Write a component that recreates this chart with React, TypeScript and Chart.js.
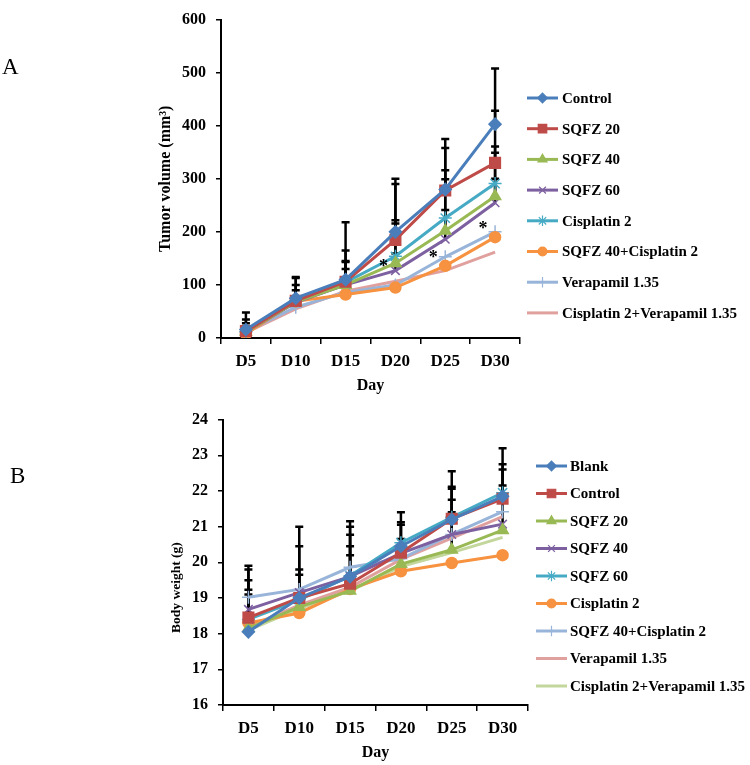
import React, { useEffect, useRef } from "react";
import { Chart, registerables } from "chart.js";
import { drawPoint } from "chart.js/helpers";

Chart.register(...registerables);

const SERIF = "'Liberation Serif', 'Times New Roman', serif";

const days = ["D5", "D10", "D15", "D20", "D25", "D30"];

// ---------- Panel A: tumor volume ----------
const aNames = [
  "Control",
  "SQFZ 20",
  "SQFZ 40",
  "SQFZ 60",
  "Cisplatin 2",
  "SQFZ 40+Cisplatin 2",
  "Verapamil 1.35",
  "Cisplatin 2+Verapamil 1.35",
];
const aControl = [16, 75, 110, 200, 280, 403];
const aSqfz20 = [13, 70, 106, 185, 278, 330];
const aSqfz40 = [12, 68, 100, 141, 202, 267];
const aSqfz60 = [12, 67, 100, 127, 186, 255];
const aCis2 = [12, 70, 105, 154, 226, 291];
const aSqfz40Cis = [8, 69, 82, 95, 136, 190];
const aVera = [12, 58, 86, 100, 153, 200];
const aCisVera = [10, 55, 88, 107, 127, 162];

const aControlErr = [32, 40, 108, 100, 95, 105];
const aSqfz20Err = [22, 43, 59, 105, 80, 98];
const aSqfz40Err = [0, 22, 43, 75, 97, 82];
const aSqfz60Err = [0, 0, 30, 32, 55, 45];
const aCis2Err = [16, 30, 40, 68, 90, 70];

const aStarDays = ["D20", "D25", "D30"];
const aStarValues = [140, 157, 212];

// ---------- Panel B: body weight ----------
const bNames = [
  "Blank",
  "Control",
  "SQFZ 20",
  "SQFZ 40",
  "SQFZ 60",
  "Cisplatin 2",
  "SQFZ 40+Cisplatin 2",
  "Verapamil 1.35",
  "Cisplatin 2+Verapamil 1.35",
];
const bBlank = [18.05, 19.0, 19.6, 20.45, 21.2, 21.85];
const bControl = [18.45, 19.0, 19.4, 20.27, 21.22, 21.78];
const bSqfz20 = [18.15, 18.75, 19.2, 19.95, 20.35, 20.9];
const bSqfz40 = [18.68, 19.15, 19.6, 20.25, 20.78, 21.07];
const bSqfz60 = [18.4, 18.95, 19.62, 20.55, 21.26, 21.95];
const bCis2 = [18.3, 18.58, 19.25, 19.75, 19.98, 20.2];
const bSqfz40Cis = [19.02, 19.24, 19.86, 20.1, 20.78, 21.42];
const bVera = [18.2, 18.8, 19.3, 20.08, 20.68, 21.28];
const bCisVera = [18.1, 18.7, 19.2, 19.88, 20.27, 20.7];

const bBlankErr = [1.85, 2.0, 1.55, 0.95, 1.35, 1.35];
const bControlErr = [1.35, 1.45, 1.6, 0.85, 0.9, 0.97];
const bSqfz20Err = [0.95, 0, 1.0, 0, 1.05, 0];
const bSqfz40Err = [0.55, 0.5, 0.85, 0.4, 0.97, 1.08];
const bSqfz60Err = [1.1, 0.85, 1.15, 0.5, 0.8, 0.65];

// ---------- styles ----------
const BLUE = "#4A7EBB";
const RED = "#BE4B48";
const GREEN = "#98B954";
const PURPLE = "#7D60A0";
const TEAL = "#46AAC5";
const ORANGE = "#F69240";
const LIGHTBLUE = "#98B4D9";
const PINK = "#E0A09E";
const LIGHTGREEN = "#C3D69B";

type Mk = { style: string | false; r: number };
const MK_DIAMOND: Mk = { style: "rectRot", r: 6 };
const MK_SQUARE: Mk = { style: "rect", r: 7.5 };
const MK_TRI: Mk = { style: "triangle", r: 6.5 };
const MK_X: Mk = { style: "crossRot", r: 6 };
const MK_STAR: Mk = { style: "star", r: 6.5 };
const MK_CIRCLE: Mk = { style: "circle", r: 5.5 };
const MK_PLUS: Mk = { style: "cross", r: 6.5 };
const MK_NONE: Mk = { style: false, r: 0 };

function makeDataset(label: string, data: number[], color: string, mk: Mk, err?: number[]) {
  return {
    label,
    data,
    borderColor: color,
    backgroundColor: color,
    borderWidth: 3,
    pointStyle: mk.style || "circle",
    pointRadius: mk.style ? mk.r : 0,
    pointBorderWidth: 1.5,
    pointBackgroundColor: color,
    pointBorderColor: color,
    tension: 0,
    errorBars: err || null,
    mk,
  } as any;
}

const errorBarPlugin = {
  id: "errorBars",
  beforeDatasetsDraw(chart: any) {
    const ctx = chart.ctx;
    const x = chart.scales.x;
    const y = chart.scales.y;
    ctx.save();
    ctx.strokeStyle = "#000";
    ctx.lineWidth = 2.5;
    chart.data.datasets.forEach((ds: any) => {
      if (!ds.errorBars) return;
      ds.data.forEach((v: number, j: number) => {
        const e = ds.errorBars[j];
        if (!e) return;
        const px = x.getPixelForValue(j);
        const y0 = y.getPixelForValue(v);
        const y1 = y.getPixelForValue(v + e);
        ctx.beginPath();
        ctx.moveTo(px, y0);
        ctx.lineTo(px, y1);
        ctx.moveTo(px - 4, y1);
        ctx.lineTo(px + 4, y1);
        ctx.stroke();
      });
    });
    ctx.restore();
  },
};

const extrasPlugin = {
  id: "extras",
  afterDraw(chart: any, _args: any, opts: any) {
    const ctx = chart.ctx;
    const xs = chart.scales.x;
    const ys = chart.scales.y;
    ctx.save();
    // asterisks
    if (opts.starDays) {
      ctx.fillStyle = "#000";
      ctx.font = `bold 18px ${SERIF}`;
      ctx.textAlign = "center";
      ctx.textBaseline = "middle";
      opts.starDays.forEach((d: string, i: number) => {
        const px = xs.getPixelForValue(days.indexOf(d)) - 12;
        const py = ys.getPixelForValue(opts.starValues[i]) + 4;
        ctx.fillText("*", px, py);
      });
    }
    // custom y title
    if (opts.yTitle) {
      const ca = chart.chartArea;
      ctx.save();
      ctx.fillStyle = "#000";
      ctx.font = `bold ${opts.yTitle.size}px ${SERIF}`;
      ctx.textAlign = "center";
      ctx.textBaseline = "middle";
      ctx.translate(ca.left + opts.yTitle.dx, ca.top + opts.yTitle.dy);
      ctx.rotate(-Math.PI / 2);
      ctx.fillText(opts.yTitle.text, 0, 0);
      ctx.restore();
    }
    // legend
    const lg = opts.legend;
    if (lg) {
      chart.data.datasets.forEach((ds: any, i: number) => {
        const yy = lg.y0 + i * lg.dy;
        ctx.strokeStyle = ds.borderColor;
        ctx.lineWidth = 3;
        ctx.beginPath();
        ctx.moveTo(lg.x0, yy);
        ctx.lineTo(lg.x1, yy);
        ctx.stroke();
        if (ds.mk && ds.mk.style) {
          ctx.fillStyle = ds.borderColor;
          ctx.strokeStyle = ds.borderColor;
          ctx.lineWidth = 1.2;
          drawPoint(ctx, { pointStyle: ds.mk.style, radius: ds.mk.r * 0.8, rotation: 0, borderWidth: 1.2 } as any, (lg.x0 + lg.x1) / 2, yy);
        }
        ctx.fillStyle = "#000";
        ctx.font = `bold ${lg.size}px ${SERIF}`;
        ctx.textAlign = "left";
        ctx.textBaseline = "middle";
        ctx.fillText(ds.label, lg.tx, yy + 1);
      });
    }
    ctx.restore();
  },
};

function axisX(titlePadBottom: number, height: number) {
  return {
    type: "category" as const,
    offset: true,
    afterFit: (s: any) => {
      s.height = height;
    },
    grid: {
      offset: true,
      drawOnChartArea: false,
      drawTicks: true,
      tickLength: 6,
      color: "#000",
      lineWidth: 1.5,
    },
    border: { color: "#000", width: 2 },
    ticks: { color: "#000", font: { family: SERIF, size: 17, weight: "bold" as const }, padding: 7, maxRotation: 0 },
    title: {
      display: true,
      text: "Day",
      color: "#000",
      font: { family: SERIF, size: 16, weight: "bold" as const },
      padding: { top: 0, bottom: titlePadBottom },
    },
  };
}

function axisY(min: number, max: number, step: number, width: number, title: string | null) {
  return {
    min,
    max,
    afterFit: (s: any) => {
      s.width = width;
    },
    grid: {
      drawOnChartArea: false,
      drawTicks: true,
      tickLength: 5,
      color: "#000",
      lineWidth: 1.5,
    },
    border: { color: "#000", width: 2 },
    ticks: { stepSize: step, color: "#000", font: { family: SERIF, size: 16, weight: "bold" as const }, padding: 10 },
    title: {
      display: !!title,
      text: title || "",
      color: "#000",
      font: { family: SERIF, size: 16, weight: "bold" as const },
      padding: { top: 5, bottom: 0 },
    },
  };
}

function buildA() {
  const datasets = [
    makeDataset(aNames[0], aControl, BLUE, MK_DIAMOND, aControlErr),
    makeDataset(aNames[1], aSqfz20, RED, MK_SQUARE, aSqfz20Err),
    makeDataset(aNames[2], aSqfz40, GREEN, MK_TRI, aSqfz40Err),
    makeDataset(aNames[3], aSqfz60, PURPLE, MK_X, aSqfz60Err),
    makeDataset(aNames[4], aCis2, TEAL, MK_STAR, aCis2Err),
    makeDataset(aNames[5], aSqfz40Cis, ORANGE, MK_CIRCLE),
    makeDataset(aNames[6], aVera, LIGHTBLUE, MK_PLUS),
    makeDataset(aNames[7], aCisVera, PINK, MK_NONE),
  ];
  return {
    type: "line" as const,
    data: { labels: days, datasets },
    options: {
      responsive: false,
      animation: false as const,
      layout: { padding: { left: 151, right: 230, top: 8, bottom: 0 } },
      plugins: {
        legend: { display: false },
        tooltip: { enabled: false },
        extras: {
          starDays: aStarDays,
          starValues: aStarValues,
          legend: { x0: 527, x1: 558, tx: 562, y0: 98, dy: 30.7, size: 15 },
        },
      },
      scales: {
        x: axisX(5, 62),
        y: axisY(0, 600, 100, 70, "Tumor volume (mm³)"),
      },
    },
    plugins: [errorBarPlugin, extrasPlugin],
  };
}

function buildB() {
  const datasets = [
    makeDataset(bNames[0], bBlank, BLUE, MK_DIAMOND, bBlankErr),
    makeDataset(bNames[1], bControl, RED, MK_SQUARE, bControlErr),
    makeDataset(bNames[2], bSqfz20, GREEN, MK_TRI, bSqfz20Err),
    makeDataset(bNames[3], bSqfz40, PURPLE, MK_X, bSqfz40Err),
    makeDataset(bNames[4], bSqfz60, TEAL, MK_STAR, bSqfz60Err),
    makeDataset(bNames[5], bCis2, ORANGE, MK_CIRCLE),
    makeDataset(bNames[6], bSqfz40Cis, LIGHTBLUE, MK_PLUS),
    makeDataset(bNames[7], bVera, PINK, MK_NONE),
    makeDataset(bNames[8], bCisVera, LIGHTGREEN, MK_NONE),
  ];
  return {
    type: "line" as const,
    data: { labels: days, datasets },
    options: {
      responsive: false,
      animation: false as const,
      layout: { padding: { left: 148, right: 222, top: 19, bottom: 0 } },
      plugins: {
        legend: { display: false },
        tooltip: { enabled: false },
        extras: {
          yTitle: { text: "Body weight (g)", size: 13.5, dx: -46, dy: 168 },
          legend: { x0: 536, x1: 567, tx: 570, y0: 66, dy: 27.5, size: 15 },
        },
      },
      scales: {
        x: axisX(3, 60),
        y: axisY(16, 24, 1, 75, null),
      },
    },
    plugins: [errorBarPlugin, extrasPlugin],
  };
}

function ChartCanvas({ build, top, height }: { build: () => any; top: number; height: number }) {
  const ref = useRef<HTMLCanvasElement | null>(null);
  useEffect(() => {
    if (!ref.current) return;
    const chart = new Chart(ref.current, build());
    return () => chart.destroy();
  }, [build]);
  return (
    <canvas
      ref={ref}
      width={750}
      height={height}
      style={{ position: "absolute", left: 0, top, width: 750, height }}
    />
  );
}

export default function App() {
  return (
    <div style={{ position: "absolute", left: 0, top: 0, width: 750, height: 765, background: "#fff", overflow: "hidden" }}>
      <ChartCanvas build={buildA} top={0} height={400} />
      <ChartCanvas build={buildB} top={400} height={365} />
      <div style={{ position: "absolute", left: 2, top: 55, fontFamily: SERIF, fontSize: 23, lineHeight: "23px", color: "#000" }}>A</div>
      <div style={{ position: "absolute", left: 10, top: 464, fontFamily: SERIF, fontSize: 23, lineHeight: "23px", color: "#000" }}>B</div>
    </div>
  );
}
